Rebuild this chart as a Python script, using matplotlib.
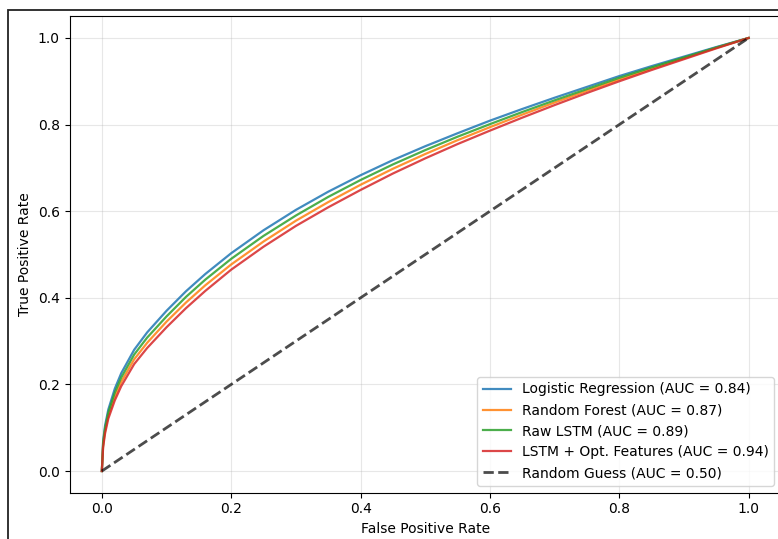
import numpy as np
import matplotlib
matplotlib.use("Agg")
import matplotlib.pyplot as plt
from matplotlib.patches import Rectangle

# ROC points (false positive rate -> true positive rate) for each model
fpr = [0.0, 0.002, 0.005, 0.01, 0.02, 0.03, 0.05, 0.07, 0.1, 0.13, 0.16, 0.2,
       0.25, 0.3, 0.35, 0.4, 0.45, 0.5, 0.55, 0.6, 0.65, 0.7, 0.75, 0.8,
       0.85, 0.9, 0.95, 1.0]
tpr_logreg = [0.0, 0.070, 0.105, 0.142, 0.190, 0.226, 0.280, 0.320, 0.370, 0.415, 0.455, 0.503,
              0.556, 0.603, 0.645, 0.683, 0.718, 0.750, 0.780, 0.809, 0.836, 0.862, 0.887, 0.912,
              0.935, 0.957, 0.979, 1.0]
tpr_rf = [0.0, 0.060, 0.093, 0.128, 0.172, 0.206, 0.258, 0.296, 0.345, 0.389, 0.429, 0.477,
          0.530, 0.578, 0.621, 0.661, 0.698, 0.732, 0.764, 0.794, 0.823, 0.851, 0.878, 0.904,
          0.929, 0.953, 0.977, 1.0]
tpr_lstm = [0.0, 0.065, 0.099, 0.135, 0.181, 0.216, 0.269, 0.308, 0.357, 0.402, 0.442, 0.490,
            0.543, 0.590, 0.633, 0.672, 0.708, 0.741, 0.772, 0.801, 0.829, 0.856, 0.882, 0.908,
            0.932, 0.955, 0.978, 1.0]
tpr_lstm_opt = [0.0, 0.055, 0.087, 0.121, 0.163, 0.196, 0.247, 0.284, 0.332, 0.376, 0.416, 0.465,
                0.518, 0.566, 0.609, 0.649, 0.687, 0.722, 0.755, 0.786, 0.816, 0.845, 0.873, 0.900,
                0.926, 0.951, 0.976, 1.0]

model_names = ['Logistic Regression', 'Random Forest', 'Raw LSTM', 'LSTM + Opt. Features']
auc_scores = [0.84, 0.87, 0.89, 0.94]
curves = [tpr_logreg, tpr_rf, tpr_lstm, tpr_lstm_opt]
colors = ['#1f77b4', '#ff7f0e', '#2ca02c', '#d62728']

W, H = 778, 539
fig = plt.figure(figsize=(W / 100, H / 100), dpi=100)
ax = fig.add_axes([69.5 / W, (H - 492.7) / H, (781 - 69.5) / W, (492.7 - 16.3) / H])

for name, auc, tpr, c in zip(model_names, auc_scores, curves, colors):
    ax.plot(fpr, tpr, color=c, lw=1.6, alpha=0.85, label=f'{name} (AUC = {auc:.2f})')

ax.plot([0, 1], [0, 1], 'k--', lw=2, alpha=0.7, label='Random Guess (AUC = 0.50)')

ax.set_xlabel('False Positive Rate')
ax.set_ylabel('True Positive Rate')
ax.grid(True, alpha=0.3)
ax.legend(loc='lower right')

# thin dark frame around the saved image
fig.add_artist(Rectangle((8 / W, -0.2), 1.2, (H - 10) / H + 0.2,
                         transform=fig.transFigure, fill=False,
                         edgecolor='#222222', lw=1.3))

fig.savefig('out.png', dpi=100)
